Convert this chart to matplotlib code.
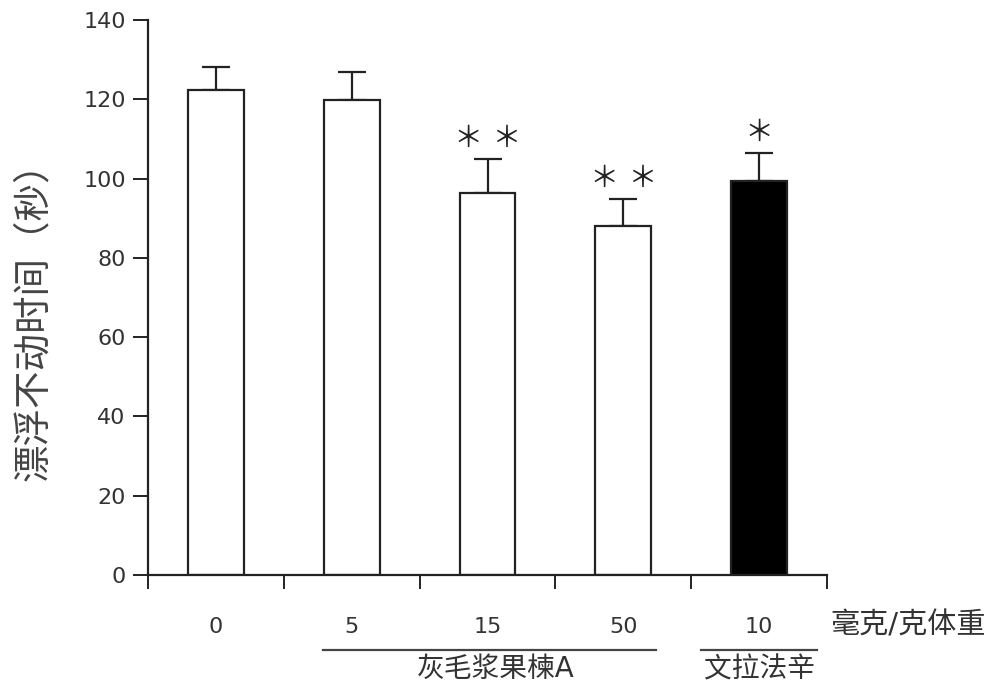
import matplotlib
matplotlib.use("Agg")
import matplotlib.pyplot as plt
import matplotlib.transforms as mtransforms
import numpy as np

# 数字用 DejaVu，中文回落到 Noto CJK
plt.rcParams['font.family'] = ['DejaVu Sans', 'Noto Sans CJK SC']

# ── 数据 ──
doses = ['0', '5', '15', '50', '10']
means = [122.4, 119.8, 96.4, 88.1, 99.4]
errs = [5.8, 7.2, 8.5, 6.8, 7.0]
stars = ['', '', '＊ ＊', '＊ ＊', '＊']
fills = ['white', 'white', 'white', 'white', 'black']

ink = '#222222'

fig = plt.figure(figsize=(9.91, 7.0), dpi=100)
ax = fig.add_axes([148 / 991, 1 - 575 / 700, (827 - 148) / 991, (575 - 20) / 700])

x = np.arange(len(doses))
ax.bar(x, means, width=0.41, color=fills, edgecolor=ink, linewidth=1.6, zorder=2)
ax.errorbar(x, means, yerr=[np.zeros(len(errs)), errs], fmt='none',
            ecolor=ink, elinewidth=1.6, capsize=10, capthick=1.6, zorder=1)

for xi, m, e, s in zip(x, means, errs, stars):
    if s:
        ax.text(xi, m + e + 1.5, s, ha='center', va='bottom', fontsize=21, color=ink)

# ── 坐标轴 ──
ax.set_xlim(-0.5, 4.5)
ax.set_ylim(0, 140)
for side in ['top', 'right']:
    ax.spines[side].set_visible(False)
for side in ['left', 'bottom']:
    ax.spines[side].set_color(ink)
    ax.spines[side].set_linewidth(1.6)

ax.set_yticks(np.arange(0, 141, 20))
ax.tick_params(axis='y', direction='out', length=11, width=1.4, color=ink,
               labelsize=16, labelcolor='#333333', pad=5)

ax.set_xticks(np.arange(-0.5, 4.6, 1.0))
ax.set_xticklabels([])
ax.tick_params(axis='x', which='major', direction='out', length=10, width=1.4, color=ink)
ax.set_xticks(x, minor=True)
ax.set_xticklabels(doses, minor=True)
ax.tick_params(axis='x', which='minor', length=0, labelsize=16, labelcolor='#333333', pad=30)

# y 轴标题
fig.text(34 / 991, 1 - 312 / 700, '漂浮不动时间（秒）', rotation=90, ha='center', va='center',
         fontsize=27, color='#444444')

# ── 分组标注 ──
trans = mtransforms.blended_transform_factory(ax.transData, ax.transAxes)
ax.plot([0.79, 3.24], [-0.135, -0.135], color='#444444', lw=1.6, transform=trans, clip_on=False)
ax.plot([3.57, 4.43], [-0.135, -0.135], color='#444444', lw=1.6, transform=trans, clip_on=False)
ax.text(2.06, -0.17, '灰毛浆果楝A', transform=trans, ha='center', va='center',
        fontsize=20, color='#333333')
ax.text(4.0, -0.17, '文拉法辛', transform=trans, ha='center', va='center',
        fontsize=20, color='#333333')
fig.text(830 / 991, 1 - 625 / 700, '毫克/克体重', ha='left', va='center',
         fontsize=21, color='#333333')

fig.savefig('out.png', dpi=100, facecolor='white')
